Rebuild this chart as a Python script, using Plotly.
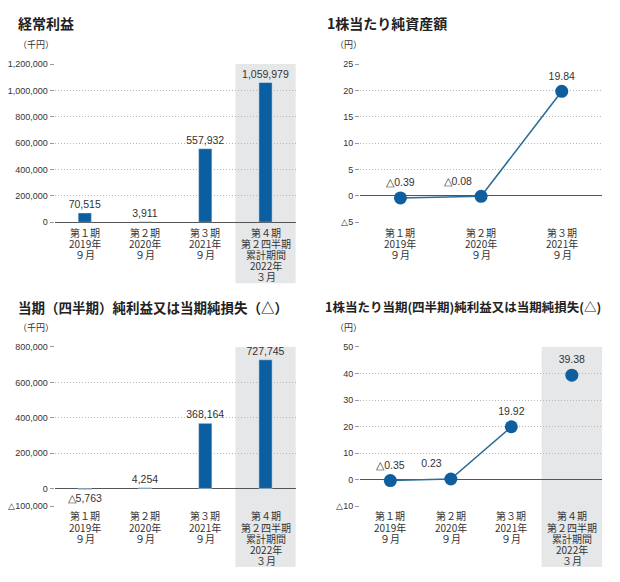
import plotly.graph_objects as go

# ---- data ----
cat_keys = ["p1", "p2", "p3", "p4"]
cat_lines = [["第１期", "2019年", "９月"],
             ["第２期", "2020年", "９月"],
             ["第３期", "2021年", "９月"],
             ["第４期", "第２四半期", "累計期間", "2022年", "３月"]]

ordinary_profit = [70515, 3911, 557932, 1059979]          # 経常利益 (千円)
net_assets_ps = [-0.39, -0.08, 19.84]                       # 1株当たり純資産額 (円)
net_income = [-5763, 4254, 368164, 727745]                  # 当期純利益 (千円)
eps = [-0.35, 0.23, 19.92, 39.38]                           # 1株当たり当期純利益 (円)

y1_ticks = [0, 200000, 400000, 600000, 800000, 1000000, 1200000]
y2_ticks = [-5, 0, 5, 10, 15, 20, 25]
y3_ticks = [-100000, 0, 200000, 400000, 600000, 800000]
y4_ticks = [-10, 0, 10, 20, 30, 40, 50]

titles = ["経常利益", "1株当たり純資産額", "当期（四半期）純利益又は当期純損失（△）",
          "1株当たり当期(四半期)純利益又は当期純損失(△)"]
units = ["（千円）", "（円）", "（千円）", "（円）"]


def fmt_int(v):
    s = f"{abs(v):,}"
    return ("△" + s) if v < 0 else s


def fmt_dec(v):
    s = f"{abs(v):.2f}"
    return ("△" + s) if v < 0 else s


# page is offset by the body margin (8px); work in page pixels
OFF = 8
W, H = 620 - 2 * OFF, 582 - 2 * OFF


def px(x):
    return (x - OFF) / W


def py(y):
    return 1 - (y - OFF) / H


BAR = "#0b5fa1"
LINE = "#2b6f98"
MARK = "#0f5f9e"
NUM = "Liberation Sans Narrow, Liberation Sans, Arial, sans-serif"
CJK = "Noto Sans CJK JP, sans-serif"
TXT = "#333333"

fig = go.Figure()

bar_common = dict(textposition="outside", cliponaxis=False, width=0.22, constraintext="none",
                  marker_color=BAR, textfont=dict(size=10.5, color=TXT, family=NUM))
pt_common = dict(marker=dict(size=13, color=MARK), cliponaxis=False,
                 textfont=dict(size=10.5, color=TXT, family=NUM))

# panel 1
fig.add_trace(go.Bar(x=cat_keys, y=ordinary_profit, text=[fmt_int(v) for v in ordinary_profit],
                     xaxis="x", yaxis="y", **bar_common))
# panel 2
fig.add_trace(go.Scatter(x=cat_keys[:3], y=net_assets_ps, mode="lines+markers+text",
                         text=[fmt_dec(v) for v in net_assets_ps],
                         textposition=["top center", "top left", "top center"],
                         line=dict(color=LINE, width=1.6), xaxis="x2", yaxis="y2", **pt_common))
# panel 3
fig.add_trace(go.Bar(x=cat_keys, y=net_income, text=[fmt_int(v) for v in net_income],
                     xaxis="x3", yaxis="y3", **bar_common))
# panel 4
fig.add_trace(go.Scatter(x=cat_keys[:3], y=eps[:3], mode="lines+markers+text",
                         text=[fmt_dec(v) for v in eps[:3]],
                         textposition=["top center", "top left", "top center"],
                         line=dict(color=LINE, width=1.6), xaxis="x4", yaxis="y4", **pt_common))
fig.add_trace(go.Scatter(x=cat_keys[3:], y=eps[3:], mode="markers+text",
                         text=[fmt_dec(v) for v in eps[3:]], textposition="top center",
                         xaxis="x4", yaxis="y4", **pt_common))

TOP = (60, 221)
BOT = (348, 510)
xd_left = [px(50), px(293)]
xd_right = [px(358), px(602)]
yd_top = [py(TOP[1]), py(TOP[0])]
yd_bot = [py(BOT[1]), py(BOT[0])]


def xax(domain, anchor, n):
    return dict(domain=domain, anchor=anchor, type="category", range=[-0.5, n - 0.5],
                categoryorder="array", categoryarray=cat_keys,
                showgrid=False, showline=False, ticks="", zeroline=False,
                showticklabels=False, fixedrange=True)


def yax(domain, anchor, rng, tv):
    return dict(domain=domain, anchor=anchor, range=rng, tickvals=tv,
                ticktext=[fmt_int(v) for v in tv], showgrid=True, gridcolor="#b8b8b8",
                griddash="1px,2px", gridwidth=1, zeroline=True, zerolinecolor="#555555",
                zerolinewidth=1, ticks="outside", ticklen=4, tickcolor="#9a9a9a",
                tickfont=dict(size=9, color=TXT, family=NUM), showline=False, fixedrange=True)


fig.update_layout(
    width=W, height=H, margin=dict(l=0, r=0, t=0, b=0),
    paper_bgcolor="white", plot_bgcolor="rgba(0,0,0,0)", showlegend=False,
    xaxis=xax(xd_left, "y", 4), yaxis=yax(yd_top, "x", [0, 1200000], y1_ticks),
    xaxis2=xax(xd_right, "y2", 3), yaxis2=yax(yd_top, "x2", [-5, 25], y2_ticks),
    xaxis3=xax(xd_left, "y3", 4), yaxis3=yax(yd_bot, "x3", [-100000, 800000], y3_ticks),
    xaxis4=xax(xd_right, "y4", 4), yaxis4=yax(yd_bot, "x4", [-10, 50], y4_ticks),
)

shade = "#e6e7e8"
for xr, yr, (t, b) in [("x domain", "y domain", TOP), ("x3 domain", "y3 domain", BOT),
                       ("x4 domain", "y4 domain", BOT)]:
    fig.add_shape(type="rect", xref=xr, yref=yr, x0=0.75, x1=1.0,
                  y0=-(62 / (b - t)), y1=1.0,
                  fillcolor=shade, line_width=0, layer="below")

# category labels (multi-line, under each axis)
for xa, (t, b), n in [("x", TOP, 4), ("x2", TOP, 3), ("x3", BOT, 4), ("x4", BOT, 4)]:
    for key, lines in zip(cat_keys[:n], cat_lines[:n]):
        for i, ln in enumerate(lines):
            fig.add_annotation(text=ln, x=key, xref=xa, y=py(b + 10 + i * 11.3), yref="paper",
                               xanchor="center", yanchor="middle", showarrow=False, borderpad=0,
                               font=dict(size=10, color=TXT, family=CJK))

# titles and units
title_pos = [(11, 18), (323, 18), (11, 307), (321, 307)]
title_sz = [14, 14, 13.5, 12.5]
unit_pos = [(31, 40), (346, 40), (31, 328), (346, 328)]
for t, (x, y), s in zip(titles, title_pos, title_sz):
    fig.add_annotation(text="<b>" + t + "</b>", x=px(x), y=py(y), xref="paper", yref="paper",
                       xanchor="left", yanchor="middle", showarrow=False,
                       font=dict(size=s, color="#222222", family=CJK))
for u, (x, y) in zip(units, unit_pos):
    fig.add_annotation(text=u, x=px(x), y=py(y), xref="paper", yref="paper",
                       xanchor="center", yanchor="middle", showarrow=False,
                       font=dict(size=9, color=TXT, family=CJK))

fig.write_html("out.html")
